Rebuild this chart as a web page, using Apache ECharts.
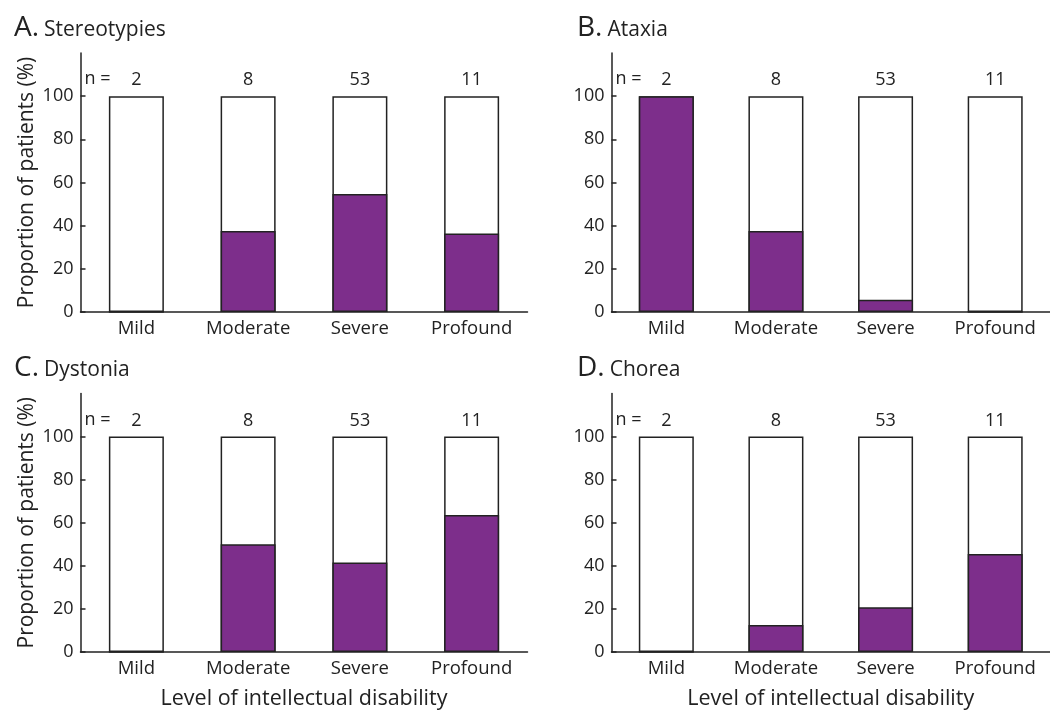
<!DOCTYPE html>
<html>
<head>
<meta charset="utf-8">
<script src="https://cdn.jsdelivr.net/npm/echarts@6/dist/echarts.min.js"></script>
<style>
html,body{margin:0;padding:0;background:#fff;}
#chart{width:1050px;height:711px;}
</style>
</head>
<body>
<div id="chart"></div>
<script>
// ---- data ----
const categories = ['Mild', 'Moderate', 'Severe', 'Profound'];
const nCounts = [2, 8, 53, 11];
const totals = [100, 100, 100, 100];
const stereotypies = [0, 37.5, 54.7, 36.4];
const ataxia = [100, 37.5, 5.7, 0];
const dystonia = [0, 50, 41.5, 63.6];
const chorea = [0, 12.5, 20.8, 45.5];
const panelLetters = ['A.', 'B.', 'C.', 'D.'];
const panelNames = ['Stereotypies', 'Ataxia', 'Dystonia', 'Chorea'];
const panelValues = [stereotypies, ataxia, dystonia, chorea];
const yTicks = [0, 20, 40, 60, 80, 100];
const yMax = 120;
const yInterval = 20;
const yAxisName = 'Proportion of patients (%)';
const xAxisName = 'Level of intellectual disability';

// ---- layout ----
const FONT = '"Open Sans", "Noto Sans", sans-serif';
const TXT = '#222';
const PURPLE = '#7d2e8b';
const grids = [
  {left: 80.5, top: 53, width: 447, height: 259},
  {left: 611.5, top: 53, width: 447, height: 259},
  {left: 80.5, top: 393.5, width: 447, height: 259},
  {left: 611.5, top: 393.5, width: 447, height: 259}
];
const titlePos = [
  {left: 9, top: 9}, {left: 572, top: 9}, {left: 9, top: 349}, {left: 572, top: 349}
];

const option = {
  backgroundColor: '#fff',
  animation: false,
  textStyle: {fontFamily: FONT},
  title: panelLetters.map((l, i) => ({
    text: '{a|' + l + '}{b|' + panelNames[i] + '}',
    left: titlePos[i].left, top: titlePos[i].top,
    textStyle: {
      rich: {
        a: {fontSize: 28, fontFamily: FONT, color: TXT, fontWeight: 'normal'},
        b: {fontSize: 21, fontFamily: FONT, color: TXT, fontWeight: 'normal', padding: [4, 0, 0, 5]}
      }
    }
  })),
  grid: grids,
  xAxis: grids.map((g, i) => ({
    type: 'category',
    gridIndex: i,
    data: categories,
    axisLine: {lineStyle: {color: TXT, width: 1.5}},
    axisTick: {show: false},
    axisLabel: {color: TXT, fontSize: 18.5, fontFamily: FONT, margin: 7},
    name: i >= 2 ? xAxisName : '',
    nameLocation: 'middle',
    nameGap: 36,
    nameTextStyle: {color: TXT, fontSize: 21.5, fontFamily: FONT}
  })),
  yAxis: grids.map((g, i) => ({
    type: 'value',
    gridIndex: i,
    min: 0, max: yMax, interval: yInterval,
    axisLine: {show: true, lineStyle: {color: TXT, width: 1.5}},
    axisTick: {show: true, inside: true, length: 5, customValues: yTicks,
      lineStyle: {color: TXT, width: 1.5}},
    axisLabel: {color: TXT, fontSize: 18, fontFamily: FONT, margin: 7, customValues: yTicks},
    splitLine: {show: false},
    name: (i % 2 === 0) ? yAxisName : '',
    nameLocation: 'middle',
    nameGap: 43,
    nameTextStyle: {color: TXT, fontSize: 21, fontFamily: FONT}
  })),
  graphic: grids.map((g, i) => ({
    type: 'text',
    left: g.left + 4,
    top: g.top + 17,
    style: {text: 'n =', fill: TXT, font: '18px ' + FONT}
  })),
  series: []
};

panelValues.forEach((vals, i) => {
  option.series.push({
    type: 'bar',
    xAxisIndex: i, yAxisIndex: i,
    data: totals,
    barWidth: 55,
    barGap: '-100%',
    itemStyle: {color: '#fff', borderColor: TXT, borderWidth: 1.5},
    label: {
      show: true, position: 'top', distance: 7,
      color: TXT, fontSize: 18, fontFamily: FONT,
      formatter: p => String(nCounts[p.dataIndex])
    },
    z: 2
  });
  option.series.push({
    type: 'bar',
    xAxisIndex: i, yAxisIndex: i,
    data: vals,
    barWidth: 55,
    barGap: '-100%',
    itemStyle: {color: PURPLE, borderColor: TXT, borderWidth: 1.5},
    z: 3
  });
});

const chart = echarts.init(document.getElementById('chart'), null, {renderer: 'canvas'});
chart.setOption(option);
</script>
</body>
</html>
